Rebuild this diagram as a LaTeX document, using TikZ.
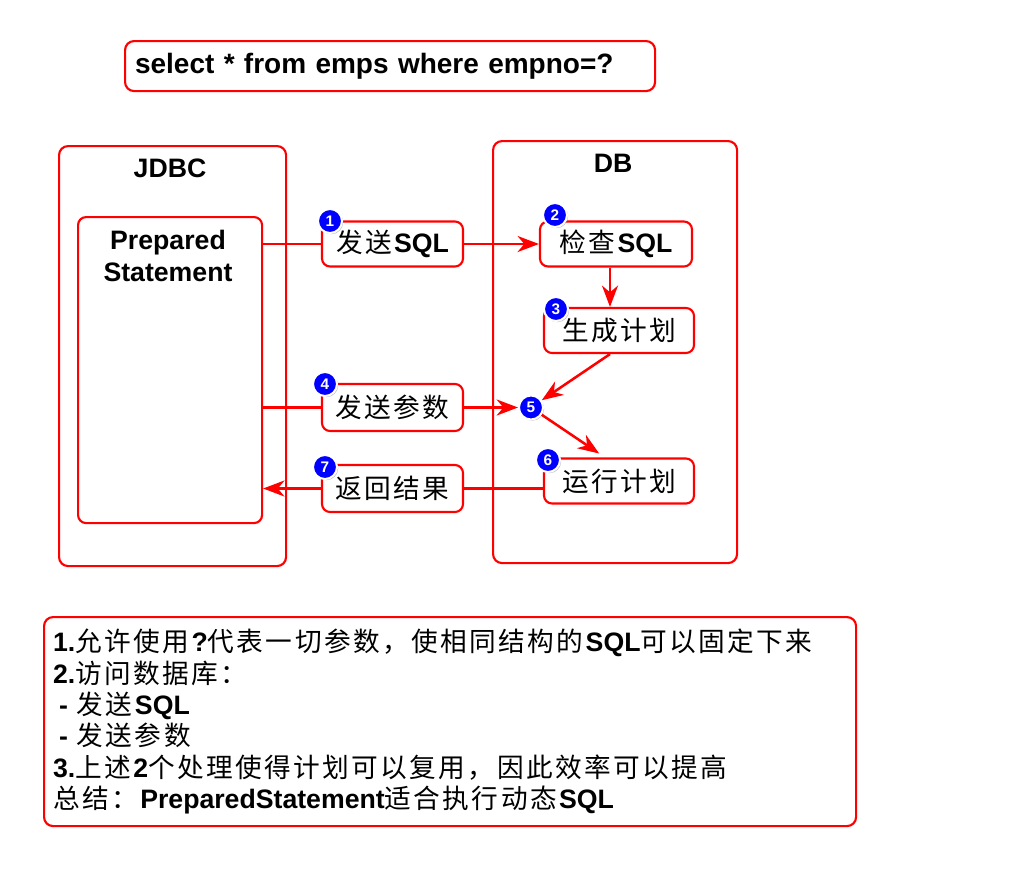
\documentclass[tikz,border=0pt]{standalone}
\usepackage{fontspec}
\setmainfont{Liberation Sans}
\newfontfamily\cjk[LetterSpace=9]{Noto Sans CJK SC}
\usetikzlibrary{positioning, arrows.meta, shadows}
\newdimen\px \px=0.75pt
\newcommand{\zh}[1]{{\cjk #1}}

\tikzset{
  redframe/.style={draw=red, line width=1.6pt, rounded corners=9\px, anchor=north west},
  stepbox/.style={draw=red, line width=1.6pt, rounded corners=8\px, fill=white,
    minimum width=141\px, minimum height=45\px, inner sep=0pt},
  badge/.style={circle, fill=blue, draw=white, line width=1.5pt, text=white,
    font=\bfseries\fontsize{11.5}{11.5}\selectfont, inner sep=0pt, minimum size=18pt,
    drop shadow={shadow xshift=1.2\px, shadow yshift=-1.2\px, opacity=0.5}},
  title/.style={font=\bfseries\fontsize{20}{24}\selectfont},
  wire/.style={red, line width=1.9pt},
  arr/.style={wire, -{Stealth[length=16pt, width=12pt, inset=5pt]}},
}

\begin{document}
\begin{tikzpicture}[x=0.75pt, y=-0.75pt, font=\fontsize{20}{24}\selectfont]
  \useasboundingbox (0,0) rectangle (1024,886);

  % SQL oben
  \node[redframe, minimum height=50\px, text width=510\px, inner xsep=10\px, align=left,
    font=\bfseries\fontsize{21}{24}\selectfont] (query) at (124,40) {select * from emps where empno=?};

  % Rahmen
  \node[redframe, minimum width=227\px, minimum height=420\px] (jdbc) at (58,145) {};
  \node[redframe, minimum width=244\px, minimum height=422\px] (db) at (492,140) {};
  \node[redframe, rounded corners=8\px, minimum width=184\px, minimum height=306\px] (ps) at (77,216) {};
  \node[title] (jdbclabel) at (170,168) {JDBC};
  \node[title] (dblabel) at (613,163) {DB};
  \node[font=\bfseries\fontsize{20}{23.5}\selectfont, align=center] (pslabel) at (168,256) {Prepared\\Statement};

  % Schritte
  \node[stepbox] (send) at (392.5,244) {\zh{发送}\textbf{SQL}};
  \node[stepbox, minimum width=152\px] (check) at (616,244) {\zh{检查}\textbf{SQL}};
  \node[stepbox, minimum width=150\px] (plan) at (619,330.5) {\zh{生成计划}};
  \node[stepbox, minimum height=47\px] (param) at (392.5,407.5) {\zh{发送参数}};
  \node[stepbox, minimum width=150\px] (run) at (619,481) {\zh{运行计划}};
  \node[stepbox, minimum height=47\px] (result) at (392.5,488.5) {\zh{返回结果}};
  \node[badge] (b5) at (531,407.5) {5};

  % Verbindungen
  \draw[wire] (ps.east |- send) -- (send);
  \draw[arr] (send) -- (check);
  \draw[arr] ([xshift=-6\px]check.south) -- ([xshift=-6\px]check.south |- plan.north);
  \draw[arr] ([xshift=-9\px]plan.south) -- (b5);
  \draw[wire] (ps.east |- param) -- (param);
  \draw[arr] (param) -- (b5);
  \draw[arr, shorten >=7\px] (b5) -- ([xshift=-14\px]run.north);
  \draw[wire] (run.west |- result.east) -- (result.east);
  \draw[arr] (result) -- (ps.east |- result);

  % Nummern
  \node[badge] (b1) at (330,221) {1};
  \node[badge] (b2) at (555,215) {2};
  \node[badge] (b3) at (556,309) {3};
  \node[badge] (b4) at (325,384) {4};
  \node[badge] (b6) at (548,460) {6};
  \node[badge] (b7) at (325,467) {7};

  % Zusammenfassung
  \node[redframe, minimum height=209\px, text width=794\px, inner xsep=9\px, align=left,
    font=\fontsize{20}{23.5}\selectfont] (notes) at (43,616) {%
    \textbf{1.}\zh{允许使用}\textbf{?}\zh{代表一切参数，使相同结构的}\textbf{SQL}\zh{可以固定下来}\\
    \textbf{2.}\zh{访问数据库：}\\
    \hspace*{6\px}\textbf{-} \zh{发送}\textbf{SQL}\\
    \hspace*{6\px}\textbf{-} \zh{发送参数}\\
    \textbf{3.}\zh{上述}\textbf{2}\zh{个处理使得计划可以复用，因此效率可以提高}\\
    \zh{总结：}\textbf{PreparedStatement}\zh{适合执行动态}\textbf{SQL}};
\end{tikzpicture}
\end{document}
